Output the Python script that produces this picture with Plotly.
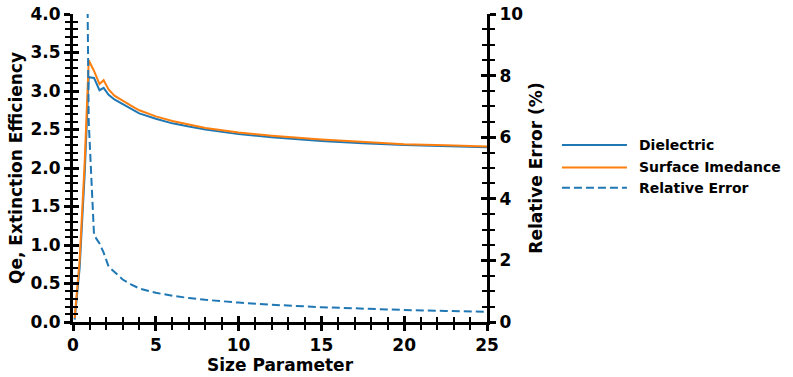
import plotly.graph_objects as go

size_param = [0.1, 0.4, 0.7, 0.95, 1.27, 1.6, 1.85, 2.15, 2.5, 3.0, 3.5, 4.0, 5.0, 6.0, 7.0, 8.0,
              10.0, 12.0, 15.0, 17.5, 20.0, 22.5, 25.0]
qe_dielectric = [0.03, 0.7, 1.9, 3.18, 3.17, 3.01, 3.04, 2.95, 2.89, 2.83, 2.77, 2.71, 2.64, 2.58,
                 2.54, 2.50, 2.44, 2.40, 2.35, 2.32, 2.30, 2.285, 2.27]
qe_surface = [0.05, 0.8, 2.05, 3.40, 3.26, 3.09, 3.14, 3.02, 2.94, 2.87, 2.81, 2.75, 2.67, 2.61,
              2.56, 2.52, 2.46, 2.42, 2.37, 2.34, 2.31, 2.295, 2.28]
rel_error = [60, 40, 20, 6.5, 2.82, 2.55, 2.25, 1.80, 1.62, 1.38, 1.22, 1.09, 0.95, 0.85, 0.78,
             0.72, 0.63, 0.56, 0.48, 0.43, 0.39, 0.36, 0.33]

names = ["Dielectric", "Surface Imedance", "Relative Error"]
colors = ["#1f77b4", "#ff7f0e", "#1f77b4"]
dashes = ["solid", "solid", "8px,4px"]

FONT = "DejaVu Sans"
tickfont = dict(family=FONT, size=17, color="black", weight="bold")
titlefont = dict(family=FONT, size=17, color="black", weight="bold")

fig = go.Figure()
fig.add_trace(go.Scatter(x=size_param, y=qe_dielectric, mode="lines", name=names[0],
                         line=dict(color=colors[0], width=2), xaxis="x", yaxis="y"))
fig.add_trace(go.Scatter(x=size_param, y=qe_surface, mode="lines", name=names[1],
                         line=dict(color=colors[1], width=2), xaxis="x", yaxis="y"))
fig.add_trace(go.Scatter(x=size_param, y=rel_error, mode="lines", name=names[2],
                         line=dict(color=colors[2], width=2, dash=dashes[2]), xaxis="x", yaxis="y2"))
# empty helper traces so the inward-tick overlay axes are drawn
fig.add_trace(go.Scatter(x=[], y=[], xaxis="x2", yaxis="y3", showlegend=False, hoverinfo="skip"))
fig.add_trace(go.Scatter(x=[], y=[], xaxis="x", yaxis="y4", showlegend=False, hoverinfo="skip"))

common = dict(showgrid=False, zeroline=False, automargin=False)
fig.update_layout(
    width=793, height=377,
    margin=dict(l=73, r=306, t=14, b=55),
    paper_bgcolor="white", plot_bgcolor="white",
    showlegend=False,
    xaxis=dict(range=[0, 25], tick0=0, dtick=5, ticks="outside", ticklen=6, tickwidth=3,
               tickcolor="black", showline=True, linewidth=3, linecolor="black",
               minor=dict(ticks="outside", dtick=1, ticklen=5, tickwidth=1.5, tickcolor="black"),
               tickfont=tickfont, title=dict(text="Size Parameter", font=titlefont, standoff=4),
               anchor="y", **common),
    xaxis2=dict(range=[0, 25], overlaying="x", anchor="y", side="bottom", tick0=0, dtick=5,
                ticks="inside", ticklen=6, tickwidth=3, tickcolor="black", showticklabels=False,
                minor=dict(ticks="inside", dtick=1, ticklen=5, tickwidth=1.5, tickcolor="black"),
                showline=False, **common),
    yaxis=dict(range=[0, 4], tick0=0, dtick=0.5, tickformat=".1f", ticks="outside", ticklen=6,
               tickwidth=3, tickcolor="black", showline=True, linewidth=3, linecolor="black",
               minor=dict(ticks="outside", dtick=0.1, ticklen=5, tickwidth=1.5, tickcolor="black"),
               tickfont=tickfont,
               title=dict(text="Qe, Extinction Efficiency", font=titlefont, standoff=4),
               anchor="x", **common),
    yaxis3=dict(range=[0, 4], overlaying="y", anchor="x", side="left", tick0=0, dtick=0.5,
                ticks="inside", ticklen=6, tickwidth=3, tickcolor="black", showticklabels=False,
                minor=dict(ticks="inside", dtick=0.1, ticklen=5, tickwidth=1.5, tickcolor="black"),
                showline=False, **common),
    yaxis2=dict(range=[0, 10], overlaying="y", side="right", anchor="x", tick0=0, dtick=2,
                ticks="outside", ticklen=6, tickwidth=3, tickcolor="black", showline=True,
                linewidth=3, linecolor="black",
                minor=dict(ticks="outside", dtick=0.5, ticklen=5, tickwidth=1.5, tickcolor="black"),
                tickfont=tickfont,
                title=dict(text="Relative Error (%)", font=titlefont, standoff=8), **common),
    yaxis4=dict(range=[0, 10], overlaying="y", side="right", anchor="x", tick0=0, dtick=2,
                ticks="inside", ticklen=6, tickwidth=3, tickcolor="black", showticklabels=False,
                minor=dict(ticks="inside", dtick=0.5, ticklen=5, tickwidth=1.5, tickcolor="black"),
                showline=False, **common),
)

# manual legend (long sample lines as in the reference)
legend_y = [0.575, 0.502, 0.436]
for name, col, dsh, ly in zip(names, colors, dashes, legend_y):
    fig.add_shape(type="line", xref="paper", yref="paper", x0=1.181, x1=1.338, y0=ly, y1=ly,
                  line=dict(color=col, width=2, dash=dsh))
    fig.add_annotation(xref="paper", yref="paper", x=1.362, y=ly, text=name, showarrow=False,
                       xanchor="left", yanchor="middle",
                       font=dict(family=FONT, size=14, color="black", weight="bold"))

fig.write_html("out.html")
